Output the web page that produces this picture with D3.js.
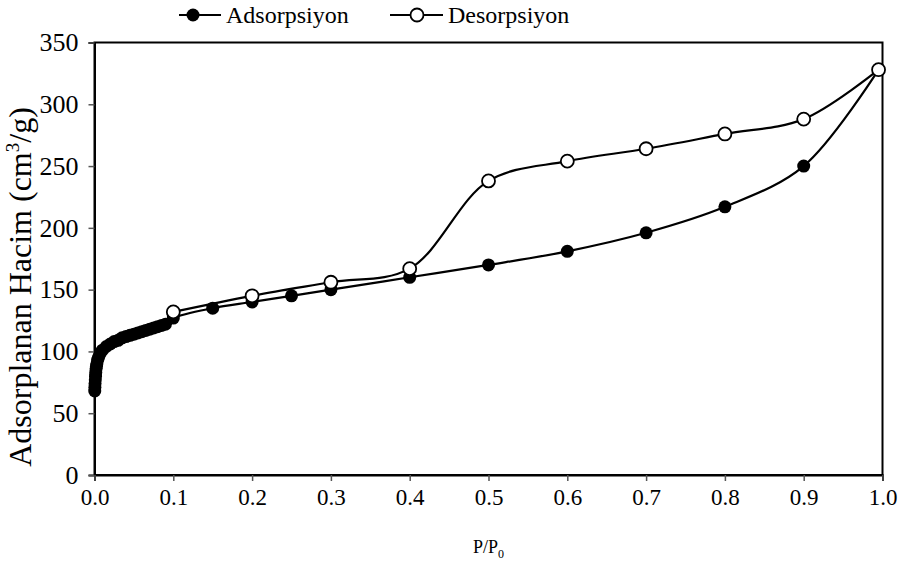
<!DOCTYPE html>
<html><head><meta charset="utf-8">
<script src="https://cdn.jsdelivr.net/npm/d3@7"></script>
<style>body{margin:0;background:#fff}svg{display:block}text{font-family:"Liberation Serif","Times New Roman",serif;fill:#000}</style>
</head><body><svg id="c" width="902" height="567"></svg>
<script>
const adsX = [0.0003,0.0005,0.0007,0.001,0.0013,0.0016,0.002,0.0025,0.003,0.004,0.005,0.007,0.01,0.015,0.02,0.025,0.03,0.035,0.04,0.045,0.05,0.055,0.06,0.065,0.07,0.075,0.08,0.085,0.09,0.1,0.15,0.2,0.25,0.3,0.4,0.5,0.6,0.7,0.8,0.9,0.995];
const adsY = [68,71,74,77,80,83,86,88,90,93,95,98,101,104,106,108,109,111,112,113,114,115,116,117,118,119,120,121,122,127,135,140,145,150,160,170,181,196,217,250,328];
const desX = [0.995,0.9,0.8,0.7,0.6,0.5,0.4,0.3,0.2,0.1];
const desY = [328,288,276,264,254,238,167,156,145,132];
const xTicks = [0,0.1,0.2,0.3,0.4,0.5,0.6,0.7,0.8,0.9,1.0];
const yTicks = [0,50,100,150,200,250,300,350];
const seriesNames = ["Adsorpsiyon","Desorpsiyon"];

const svg = d3.select("#c");
const L=94.5,R=882.5,T=42.5,B=475;
const x = d3.scaleLinear().domain([0,1]).range([L,R]);
const y = d3.scaleLinear().domain([0,350]).range([B,T]);

svg.append("rect").attr("x",L).attr("y",T).attr("width",R-L).attr("height",B-T)
  .attr("fill","none").attr("stroke","#000").attr("stroke-width",2);

const yAx = svg.append("g").attr("transform",`translate(${L},0)`)
  .call(d3.axisLeft(y).tickValues(yTicks).tickSize(6).tickPadding(10).tickFormat(d3.format("d")));
const xAx = svg.append("g").attr("transform",`translate(0,${B})`)
  .call(d3.axisBottom(x).tickValues(xTicks).tickSize(6).tickPadding(8).tickFormat(d3.format(".1f")));
[yAx,xAx].forEach(g=>{
  g.select(".domain").attr("stroke","#000").attr("stroke-width",2);
  g.selectAll(".tick line").attr("stroke","#555").attr("stroke-width",1.5);
  g.selectAll(".tick text").style("font-family",'"Liberation Serif",serif').attr("fill","#000");
});
yAx.selectAll(".tick text").style("font-size","26px");
xAx.selectAll(".tick text").style("font-size","23px");

const curve = d3.curveCatmullRom.alpha(0.5);
const line = d3.line().x(d=>x(d[0])).y(d=>y(d[1])).curve(curve);
const ads = adsX.map((v,i)=>[v,adsY[i]]);
const des = desX.map((v,i)=>[v,desY[i]]);

svg.append("path").attr("d",line(ads)).attr("fill","none").attr("stroke","#000").attr("stroke-width",2.2);
svg.selectAll(".a").data(ads).join("circle").attr("cx",d=>x(d[0])).attr("cy",d=>y(d[1])).attr("r",6.5).attr("fill","#000");
svg.append("path").attr("d",line(des)).attr("fill","none").attr("stroke","#000").attr("stroke-width",2.2);
svg.selectAll(".d").data(des).join("circle").attr("cx",d=>x(d[0])).attr("cy",d=>y(d[1])).attr("r",6.5).attr("fill","#fff").attr("stroke","#000").attr("stroke-width",1.8);

const lg = svg.append("g");
lg.append("line").attr("x1",179).attr("x2",221).attr("y1",15).attr("y2",15).attr("stroke","#000").attr("stroke-width",2.2);
lg.append("circle").attr("cx",193).attr("cy",15).attr("r",6.5).attr("fill","#000");
lg.append("text").attr("x",226).attr("y",23).style("font-size","24px").text(seriesNames[0]);
lg.append("line").attr("x1",390).attr("x2",443).attr("y1",15).attr("y2",15).attr("stroke","#000").attr("stroke-width",2.2);
lg.append("circle").attr("cx",417).attr("cy",15).attr("r",6.5).attr("fill","#fff").attr("stroke","#000").attr("stroke-width",1.8);
lg.append("text").attr("x",448).attr("y",23).style("font-size","24px").text(seriesNames[1]);

const yt = svg.append("text").attr("transform",`translate(31,287) rotate(-90)`).attr("text-anchor","middle").style("font-size","32px");
yt.append("tspan").text("Adsorplanan Hacim (cm");
yt.append("tspan").attr("dy",-12).style("font-size","19px").text("3");
yt.append("tspan").attr("dy",12).text("/g)");
const xt = svg.append("text").attr("x",(L+R)/2).attr("y",553).attr("text-anchor","middle").style("font-size","18px");
xt.append("tspan").text("P/P");
xt.append("tspan").attr("dy",5).style("font-size","12px").text("0");
</script></body></html>
